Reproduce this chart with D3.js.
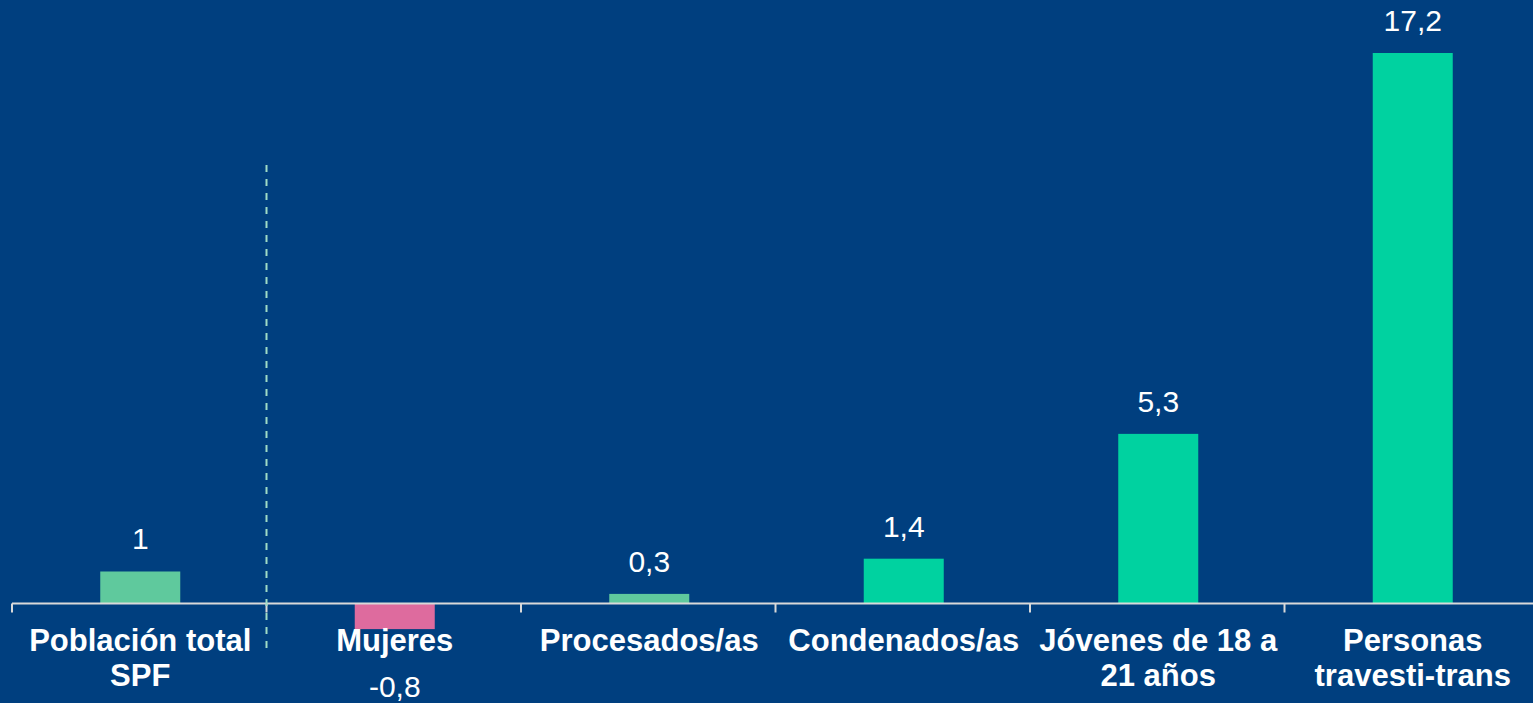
<!DOCTYPE html>
<html>
<head>
<meta charset="utf-8">
<script src="https://cdn.jsdelivr.net/npm/d3@7"></script>
<style>
  html, body { margin: 0; padding: 0; background: #003f7f; overflow: hidden; }
  svg { display: block; font-family: "Liberation Sans", Arial, sans-serif; }
</style>
</head>
<body>
<div id="chart"></div>
<script>
// data
const categories = [
  ["Población total", "SPF"],
  ["Mujeres"],
  ["Procesados/as"],
  ["Condenados/as"],
  ["Jóvenes de 18 a", "21 años"],
  ["Personas", "travesti-trans"]
];
const values = [1, -0.8, 0.3, 1.4, 5.3, 17.2];
const valueLabels = ["1", "-0,8", "0,3", "1,4", "5,3", "17,2"];
const barColors = ["#5fc99d", "#de6b9e", "#5fc99d", "#00d2a0", "#00d2a0", "#00d2a0"];

const width = 1533, height = 703;
const margin = { left: 12, right: 0 };

const svg = d3.select("#chart")
  .append("svg")
  .attr("width", width)
  .attr("height", height);

const x = d3.scaleBand()
  .domain(d3.range(categories.length))
  .range([margin.left, margin.left + 254.5 * categories.length])
  .paddingInner(0)
  .paddingOuter(0);

// 17.2 -> y 53, 0 -> y 603.5
const y = d3.scaleLinear()
  .domain([0, 17.2])
  .range([603.5, 53]);

const barWidth = 80;

// bars
svg.append("g")
  .selectAll("rect")
  .data(values)
  .join("rect")
  .attr("x", (d, i) => x(i) + x.bandwidth() / 2 - barWidth / 2 + 1)
  .attr("y", d => y(Math.max(d, 0)))
  .attr("width", barWidth)
  .attr("height", d => Math.abs(y(d) - y(0)))
  .attr("fill", (d, i) => barColors[i]);

// axis line + ticks
const axis = svg.append("g").attr("stroke", "#d9d9d9").attr("stroke-width", 2);
axis.append("line")
  .attr("x1", margin.left).attr("x2", width)
  .attr("y1", y(0)).attr("y2", y(0));
axis.selectAll("line.tick")
  .data(d3.range(categories.length))
  .join("line")
  .attr("class", "tick")
  .attr("x1", i => x(i)).attr("x2", i => x(i))
  .attr("y1", y(0)).attr("y2", y(0) + 9);

// dashed separator after the first category
svg.append("line")
  .attr("x1", x(1)).attr("x2", x(1))
  .attr("y1", 165).attr("y2", 652)
  .attr("stroke", "#9fdcc6")
  .attr("stroke-width", 2)
  .attr("stroke-dasharray", "7,7");

// category labels
svg.append("g")
  .selectAll("text")
  .data(categories)
  .join("text")
  .attr("x", (d, i) => x(i) + x.bandwidth() / 2 + 1)
  .attr("y", 651)
  .attr("text-anchor", "middle")
  .attr("fill", "#ffffff")
  .attr("font-weight", "bold")
  .attr("font-size", 31)
  .each(function (lines) {
    d3.select(this).selectAll("tspan")
      .data(lines)
      .join("tspan")
      .attr("x", d3.select(this).attr("x"))
      .attr("dy", (d, j) => j === 0 ? 0 : 35)
      .text(d => d);
  });

// value labels
svg.append("g")
  .selectAll("text")
  .data(values)
  .join("text")
  .attr("x", (d, i) => x(i) + x.bandwidth() / 2 + 1)
  .attr("y", d => d >= 0 ? y(d) - 22 : 697)
  .attr("text-anchor", "middle")
  .attr("fill", "#ffffff")
  .attr("font-size", 30)
  .text((d, i) => valueLabels[i]);
</script>
</body>
</html>
